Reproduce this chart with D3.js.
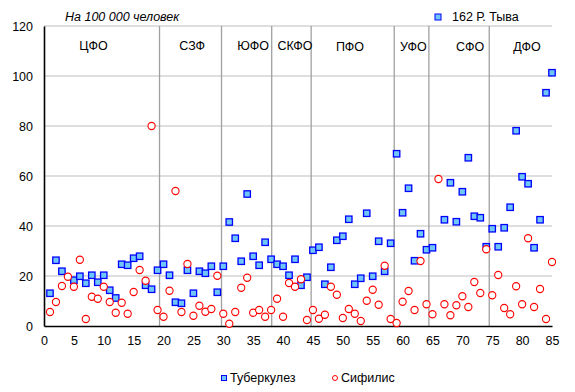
<!DOCTYPE html>
<html>
<head>
<meta charset="utf-8">
<script src="https://cdn.jsdelivr.net/npm/d3@7"></script>
<style>
  body { margin: 0; background: #fff; }
  svg { display: block; font-family: 'Liberation Sans', Arial, sans-serif; }
</style>
</head>
<body>
<svg width="575" height="392"></svg>
<script>
// region number 1..85, null = point not shown
const tuberculosis = [
  13.1, 26.3, 21.9, null, 18.3, 19.9, 17.1, 20.3, 17.5, 20.3,
  14.3, 11.2, 24.7, 24.3, 27.1, 27.9, 16.3, 14.7, 22.3, 24.7,
  20.3, 9.5, 9.1, 22.3, 13.1, 21.9, 21.1, 23.9, 13.5, 23.9,
  41.6, 35.1, 25.9, 52.8, 27.9, 24.3, 33.5, 26.7, 24.7, 23.9,
  20.3, 26.7, 16.3, 19.5, 30.3, 31.5, 16.7, 23.5, 34.3, 35.9,
  42.7, 16.7, 19.1, 45.1, 19.9, 33.9, 21.9, 33.1, 68.9, 45.3,
  55.1, 26.1, 36.9, 30.5, 31.3, null, 42.5, 57.3, 41.7, 53.7,
  67.3, 43.9, 43.3, 31.7, 38.9, 31.7, 39.3, 47.5, 78.1, 59.7,
  56.9, 31.3, 42.5, 93.3, 101.3
]

const syphilis = [
  5.6, 9.6, 16, 19.7, 15.7, 26.5, 2.8, 11.7, 10.9, 15.7,
  9.6, 5.3, 9.3, 4.9, 13.6, 22.4, 18.1, 80, 6.4, 3.7,
  14.1, 54, 5.6, 24.8, 4.1, 8.1, 5.7, 6.8, 20.1, 4.9,
  0.9, 5.6, 15.3, 19.3, 5.3, 6.4, 3.7, 6.4, 10.9, 3.7,
  17.2, 15.7, 18.7, 2.4, 6.4, 2.9, 4.5, 15.7, 12.5, 3.2,
  6.8, 4.9, 2.0, 10.1, 14.5, 8.5, 24.1, 2.8, 1.2, 9.7,
  14.0, 6.4, 26.0, 8.7, 4.7, 58.8, 8.7, 4.3, 8.3, 11.9,
  7.6, 17.6, 13.2, 30.7, 12.3, 20.4, 7.2, 4.7, 15.9, 8.7,
  35.1, 7.6, 14.8, 2.8, 25.6
]

const districts = ['ЦФО', 'СЗФ', 'ЮФО', 'СКФО', 'ПФО', 'УФО', 'СФО', 'ДФО']
const districtLabelX = [8.3, 24.8, 35, 42, 51.2, 61.8, 71.3, 80.8]
const districtBounds = [19.33, 29.7, 38.1, 44.7, 58.6, 64.4, 74.5]

const xTicks = d3.range(0, 86, 5)
const yTicks = [0, 20, 40, 60, 80, 100, 120]

const seriesNames = ['Туберкулез', 'Сифилис']
const unitNote = 'На 100 000 человек'
const tuvaNote = '162 Р. Тыва'

const margin = { top: 26, right: 23, bottom: 66, left: 44 },
  width = 575 - margin.left - margin.right,
  height = 392 - margin.top - margin.bottom

const x = d3.scaleLinear().domain([0, 85]).range([0, width])
const y = d3.scaleLinear().domain([0, 120]).range([height, 0])

const svg = d3
  .select('svg')
  .append('g')
  .attr('transform', 'translate(' + margin.left + ',' + margin.top + ')')

// horizontal grid
svg
  .append('g')
  .selectAll('line')
  .data(yTicks.filter((d) => d > 0))
  .enter()
  .append('line')
  .attr('x1', 0)
  .attr('x2', width)
  .attr('y1', (d) => y(d))
  .attr('y2', (d) => y(d))
  .attr('stroke', '#bdbdbd')
  .attr('stroke-width', 1)

// district separators
svg
  .append('g')
  .selectAll('line')
  .data(districtBounds)
  .enter()
  .append('line')
  .attr('x1', (d) => x(d))
  .attr('x2', (d) => x(d))
  .attr('y1', 0)
  .attr('y2', height)
  .attr('stroke', '#a0a0a0')
  .attr('stroke-width', 1.3)

svg
  .append('g')
  .selectAll('text')
  .data(districts)
  .enter()
  .append('text')
  .attr('x', (d, i) => x(districtLabelX[i]))
  .attr('y', (d, i) => (i < 4 ? 20 : 21))
  .attr('dy', '0.35em')
  .attr('text-anchor', 'middle')
  .attr('font-size', 12.5)
  .attr('fill', '#000')
  .text((d) => d)

// axes
const xAxis = d3.axisBottom(x).tickValues(xTicks).tickSize(0).tickPadding(10)
const yAxis = d3.axisLeft(y).tickValues(yTicks).tickSize(0).tickPadding(11)

const gx = svg.append('g').attr('transform', `translate(0, ${height})`).call(xAxis)
const gy = svg.append('g').call(yAxis)

;[gx, gy].forEach((g) => {
  g.select('.domain').attr('stroke', '#000').attr('stroke-width', 1.6)
  g.selectAll('text')
    .attr('font-size', 12.5)
    .attr('font-family', "'Liberation Sans', Arial, sans-serif")
    .attr('fill', '#000')
})

const tbPoints = tuberculosis
  .map((v, i) => ({ n: i + 1, v: v }))
  .filter((d) => d.v !== null)
const syPoints = syphilis.map((v, i) => ({ n: i + 1, v: v }))

svg
  .append('g')
  .selectAll('rect')
  .data(tbPoints)
  .enter()
  .append('rect')
  .attr('x', (d) => x(d.n) - 3.2)
  .attr('y', (d) => y(d.v) - 3.2)
  .attr('width', 6.4)
  .attr('height', 6.4)
  .attr('fill', '#6fc6f7')
  .attr('stroke', '#0000ff')
  .attr('stroke-width', 1.3)

svg
  .append('g')
  .selectAll('circle')
  .data(syPoints)
  .enter()
  .append('circle')
  .attr('cx', (d) => x(d.n))
  .attr('cy', (d) => y(d.v))
  .attr('r', 3.6)
  .attr('fill', '#fff')
  .attr('stroke', '#ff0000')
  .attr('stroke-width', 1.1)

// notes at the top
d3.select('svg')
  .append('text')
  .attr('x', 65)
  .attr('y', 17)
  .attr('dy', '0.35em')
  .attr('font-size', 12.5)
  .attr('font-style', 'italic')
  .text(unitNote)

const tuva = d3.select('svg').append('g').attr('transform', 'translate(438, 17)')
tuva
  .append('rect')
  .attr('x', -3)
  .attr('y', -3)
  .attr('width', 6)
  .attr('height', 6)
  .attr('fill', '#6fc6f7')
  .attr('stroke', '#0000ff')
  .attr('stroke-width', 1)
tuva
  .append('text')
  .attr('x', 14)
  .attr('dy', '0.35em')
  .attr('font-size', 12.5)
  .text(tuvaNote)

// bottom legend
const legend = d3
  .select('svg')
  .append('g')
  .attr('transform', 'translate(0, 378)')

const legendX = [224, 335]

legend
  .append('rect')
  .attr('x', legendX[0] - 2.5)
  .attr('y', -2.5)
  .attr('width', 5)
  .attr('height', 5)
  .attr('fill', '#6fc6f7')
  .attr('stroke', '#0000ff')
  .attr('stroke-width', 1)

legend
  .append('circle')
  .attr('cx', legendX[1])
  .attr('cy', 0)
  .attr('r', 2.5)
  .attr('fill', '#fff')
  .attr('stroke', '#ff0000')
  .attr('stroke-width', 1)

legend
  .selectAll('text')
  .data(seriesNames)
  .enter()
  .append('text')
  .attr('x', (d, i) => legendX[i] + 6)
  .attr('dy', '0.35em')
  .attr('font-size', 12.5)
  .text((d) => d)
</script>
</body>
</html>
